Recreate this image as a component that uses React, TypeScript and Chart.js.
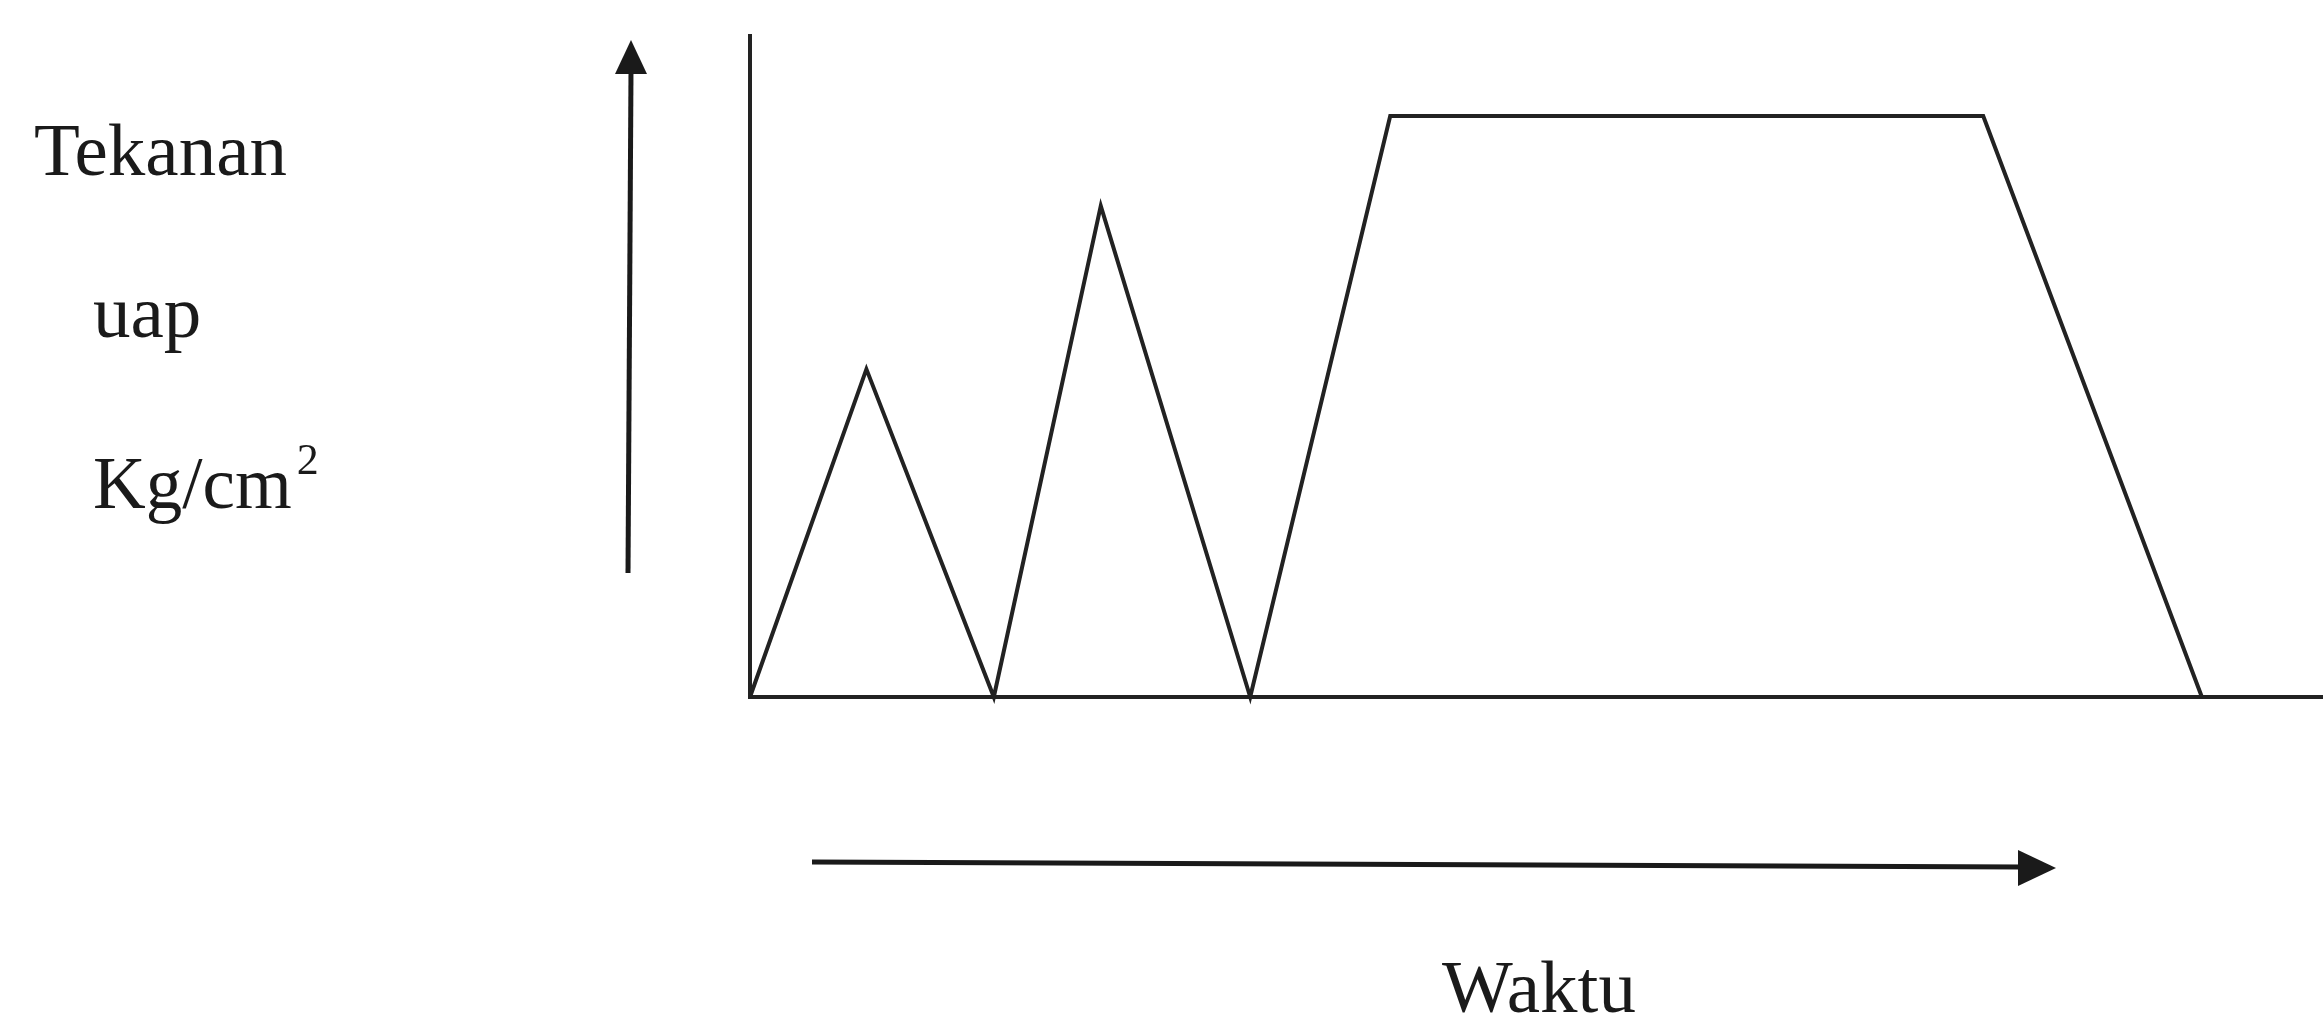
import React, { useEffect, useRef } from "react";
import { Chart, registerables } from "chart.js";

Chart.register(...registerables);

// Time (arbitrary units along the Waktu axis) and steam pressure (relative units)
const timeValues = [0, 7.4, 15.5, 22.3, 31.8, 40.7, 78.4, 92.3];
const pressureValues = [0, 49.6, 0, 74.3, 0, 87.9, 87.9, 0];

const yLabelLines = ["Tekanan", "uap", "Kg/cm"];
const yLabelSuperscript = "2";
const xLabel = "Waktu";

const X_MIN = 0;
const X_MAX = 100;
const Y_MIN = 0;
const Y_MAX = 100;

const INK = "#222222";
const FONT = '"Liberation Serif", "Times New Roman", serif';

const decorPlugin = {
  id: "decor",
  afterDraw(chart: any) {
    const ctx = chart.ctx as CanvasRenderingContext2D;
    ctx.save();
    ctx.fillStyle = "#1a1a1a";
    ctx.strokeStyle = "#1a1a1a";
    ctx.textBaseline = "alphabetic";
    ctx.textAlign = "left";
    ctx.font = `75px ${FONT}`;
    ctx.fillText(yLabelLines[0], 34, 175);
    ctx.fillText(yLabelLines[1], 93, 337);
    ctx.font = `73px ${FONT}`;
    ctx.fillText(yLabelLines[2], 93, 508);
    const w = ctx.measureText(yLabelLines[2]).width;
    ctx.font = `44px ${FONT}`;
    ctx.fillText(yLabelSuperscript, 93 + w + 5, 474);
    ctx.font = `75px ${FONT}`;
    ctx.fillText(xLabel, 1442, 1012);

    // vertical arrow
    ctx.lineWidth = 5;
    ctx.lineCap = "butt";
    ctx.beginPath();
    ctx.moveTo(628, 573);
    ctx.lineTo(631, 70);
    ctx.stroke();
    ctx.beginPath();
    ctx.moveTo(631, 40);
    ctx.lineTo(647, 74);
    ctx.lineTo(615, 74);
    ctx.closePath();
    ctx.fill();

    // horizontal arrow
    ctx.beginPath();
    ctx.moveTo(812, 862);
    ctx.lineTo(2022, 867);
    ctx.stroke();
    ctx.beginPath();
    ctx.moveTo(2056, 868);
    ctx.lineTo(2018, 850);
    ctx.lineTo(2018, 886);
    ctx.closePath();
    ctx.fill();
    ctx.restore();
  },
};

export default function App() {
  const ref = useRef<HTMLCanvasElement | null>(null);

  useEffect(() => {
    if (!ref.current) return;
    const data = timeValues.map((t, i) => ({ x: t, y: pressureValues[i] }));
    const chart = new Chart(ref.current, {
      type: "line",
      data: {
        datasets: [
          {
            data,
            borderColor: INK,
            borderWidth: 4,
            pointRadius: 0,
            tension: 0,
            fill: false,
            clip: false as any,
          },
        ],
      },
      options: {
        animation: false,
        responsive: false,
        devicePixelRatio: 1,
        layout: { padding: { left: 750, top: 36, right: 0, bottom: 328 } },
        plugins: { legend: { display: false }, tooltip: { enabled: false } },
        scales: {
          x: {
            type: "linear",
            min: X_MIN,
            max: X_MAX,
            grid: { display: false, drawTicks: false },
            ticks: { display: false },
            border: { display: true, color: INK, width: 4 },
          },
          y: {
            type: "linear",
            min: Y_MIN,
            max: Y_MAX,
            grid: { display: false, drawTicks: false },
            ticks: { display: false },
            border: { display: true, color: INK, width: 4 },
          },
        },
      },
      plugins: [decorPlugin],
    });
    return () => chart.destroy();
  }, []);

  return (
    <div
      style={{
        position: "fixed",
        left: 0,
        top: 0,
        width: 2323,
        height: 1025,
        background: "#fff",
      }}
    >
      <canvas ref={ref} width={2323} height={1025} style={{ width: 2323, height: 1025 }} />
    </div>
  );
}
